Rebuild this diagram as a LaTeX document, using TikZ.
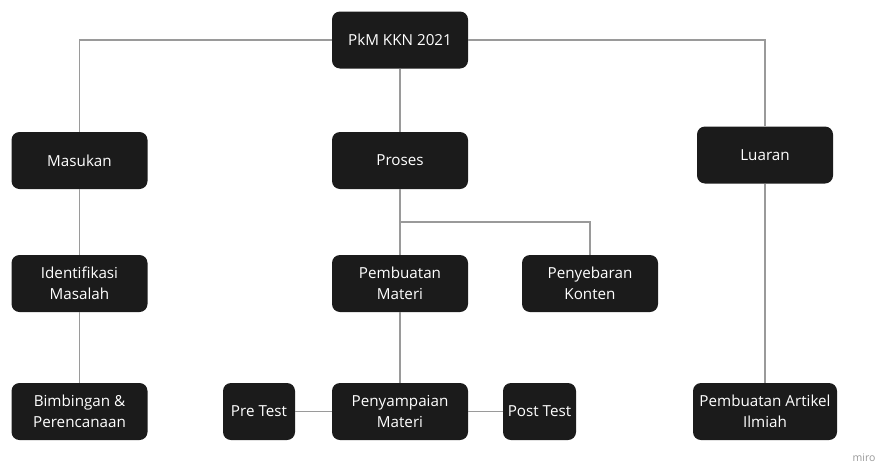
\documentclass[tikz,border=0pt]{standalone}
\usepackage{fontspec}
\setmainfont{Open Sans}
\usepackage{xcolor}
\usepackage{tikz}
\usetikzlibrary{positioning}
\definecolor{kotak}{HTML}{1B1B1B}
\definecolor{garis}{HTML}{9A9A9A}

\begin{document}
\begin{tikzpicture}[x=1pt, y=-1pt,
  kotak/.style={draw=none, fill=kotak, text=white, rounded corners=8pt, align=center,
    minimum width=136pt, minimum height=57pt, inner xsep=3pt,
    font=\fontsize{15.2}{21}\selectfont},
  garis/.style={draw=garis, line width=1.2pt}]
  \useasboundingbox (0,0) rectangle (883,466);
  % tingkat atas
  \node[kotak] (pkm) at (400,40) {PkM KKN 2021};
  \node[kotak] (masukan) at (79.5,160.5) {Masukan};
  \node[kotak] (proses) at (400,160.5) {Proses};
  \node[kotak] (luaran) at (765,155) {Luaran};
  % tingkat tengah
  \node[kotak] (identifikasi) at (79.5,283.5) {Identifikasi\\Masalah};
  \node[kotak] (pembuatan) at (400,283.5) {Pembuatan\\Materi};
  \node[kotak] (penyebaran) at (590,283.5) {Penyebaran\\Konten};
  % tingkat bawah
  \node[kotak] (bimbingan) at (79.5,411.5) {Bimbingan \&\\Perencanaan};
  \node[kotak, minimum width=72pt] (pretest) at (259,411.5) {Pre Test};
  \node[kotak] (penyampaian) at (400,411.5) {Penyampaian\\Materi};
  \node[kotak, minimum width=73pt] (posttest) at (539.5,411.5) {Post Test};
  \node[kotak, minimum width=144pt] (artikel) at (765,411.5) {Pembuatan Artikel\\Ilmiah};
  \coordinate (cabang) at (400,222);
  % garis penghubung
  \draw[garis] (pkm.west) -| (masukan.north);
  \draw[garis] (pkm.east) -| (luaran.north);
  \draw[garis] (pkm) -- (proses);
  \draw[garis] (masukan) -- (identifikasi);
  \draw[garis] (identifikasi) -- (bimbingan);
  \draw[garis] (proses) -- (pembuatan);
  \draw[garis] (cabang) -| (penyebaran.north);
  \draw[garis] (pembuatan) -- (penyampaian);
  \draw[garis] (pretest) -- (penyampaian);
  \draw[garis] (penyampaian) -- (posttest);
  \draw[garis] (luaran) -- (artikel);
  \node[text=black!40, font=\fontsize{10.5}{12}\selectfont] (miro) at (864,458) {miro};
\end{tikzpicture}
\end{document}
